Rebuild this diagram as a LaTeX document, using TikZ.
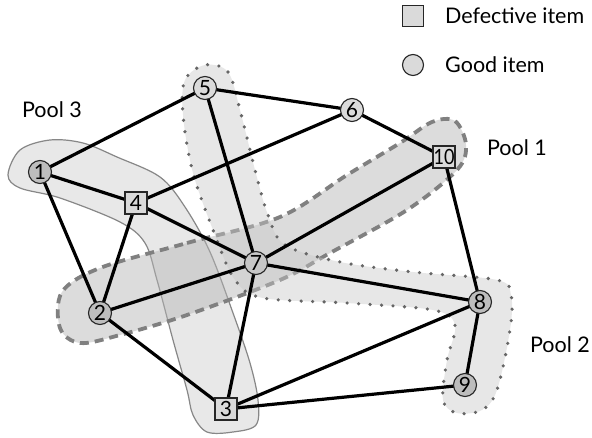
\documentclass[tikz,border=0pt]{standalone}
\usepackage{fontspec}
\setmainfont{Lato}
\begin{document}
\begin{tikzpicture}[x=1pt,y=-1pt,
  good/.style={circle,draw=black!85,line width=1.1pt,minimum size=23pt,inner sep=0pt,font=\fontsize{21}{21}\selectfont},
  bad/.style={rectangle,draw=black!85,line width=1.1pt,minimum size=22pt,inner sep=0pt,fill=light,font=\fontsize{21}{21}\selectfont},
  edge/.style={line width=3.2pt,black},
  lbl/.style={font=\fontsize{21.5}{24}\selectfont,inner sep=0pt},
  legtext/.style={font=\fontsize{21.5}{24}\selectfont,inner sep=0pt,anchor=west}]
\definecolor{light}{gray}{0.855}
\definecolor{mid}{gray}{0.78}
\definecolor{dark}{gray}{0.74}
\definecolor{pthree}{gray}{0.91}
\definecolor{pone}{RGB}{182,182,182}
\definecolor{ptwo}{RGB}{201,201,201}
\useasboundingbox (0,0) rectangle (592,438);
\fill[white] (0,0) rectangle (592,438);

% Pool 3
\draw[fill=pthree,draw=black!47,line width=1.2pt]
  plot[smooth cycle,tension=0.55] coordinates {(8,175) (20,150) (50,140) (83,143) (117,157) (160,177) (185,207) (210,252) (233,313) (250,363) (258,400) (256,425) (233,432) (207,432) (193,415) (187,390) (173,340) (157,280) (145,243) (120,222) (60,198) (20,188)};
% Pool 1
\fill[pone,fill opacity=0.48]
  plot[smooth cycle,tension=0.55] coordinates {(100,268) (187,243) (280,217) (347,175) (400,143) (432,122) (455,121) (466,145) (457,170) (407,210) (330,253) (280,280) (187,315) (120,335) (80,343) (60,328) (62,292)};
\draw[black!50,line width=3.8pt,dash pattern=on 9pt off 6pt]
  plot[smooth cycle,tension=0.55] coordinates {(100,268) (187,243) (280,217) (347,175) (400,143) (432,122) (455,121) (466,145) (457,170) (407,210) (330,253) (280,280) (187,315) (120,335) (80,343) (60,328) (62,292)};
% Pool 2
\fill[ptwo,fill opacity=0.43]
  plot[smooth cycle,tension=0.55] coordinates {(205,65) (228,72) (240,110) (255,170) (268,215) (285,245) (340,262) (413,272) (497,280) (511,295) (510,330) (497,390) (482,410) (457,413) (443,400) (447,360) (455,325) (433,310) (347,303) (263,298) (235,280) (215,235) (193,173) (183,115) (185,80)};
\draw[black!60,line width=3.6pt,line cap=round,dash pattern=on 0pt off 11.5pt]
  plot[smooth cycle,tension=0.55] coordinates {(205,65) (228,72) (240,110) (255,170) (268,215) (285,245) (340,262) (413,272) (497,280) (511,295) (510,330) (497,390) (482,410) (457,413) (443,400) (447,360) (455,325) (433,310) (347,303) (263,298) (235,280) (215,235) (193,173) (183,115) (185,80)};

% node positions (named coordinates)
\coordinate (n1) at (40,172);
\coordinate (n2) at (100,313);
\coordinate (n3) at (226,409);
\coordinate (n4) at (136,203);
\coordinate (n5) at (205,88);
\coordinate (n6) at (352,110);
\coordinate (n7) at (256,263);
\coordinate (n8) at (480,302);
\coordinate (n9) at (465,385);
\coordinate (n10) at (444,157);

\foreach \a/\b in {n1/n5,n1/n4,n1/n2,n4/n2,n4/n6,n4/n7,n5/n6,n5/n7,n6/n10,n10/n7,n10/n8,n7/n2,n7/n3,n7/n8,n2/n3,n3/n8,n3/n9,n8/n9}
  \draw[edge] (\a) -- (\b);

% nodes on top
\node[good,fill=dark] (v1) at (n1) {1};
\node[good,fill=dark] (v2) at (n2) {2};
\node[bad] (v3) at (n3) {3};
\node[bad] (v4) at (n4) {4};
\node[good,fill=light] (v5) at (n5) {5};
\node[good,fill=light] (v6) at (n6) {6};
\node[good,fill=mid] (v7) at (n7) {7};
\node[good,fill=dark] (v8) at (n8) {8};
\node[good,fill=dark] (v9) at (n9) {9};
\node[bad] (v10) at (n10) {\scalebox{0.86}[1]{10}};

% labels
\node[lbl] (p3) at (52,110) {Pool 3};
\node[lbl] (p1) at (517,148) {Pool 1};
\node[lbl] (p2) at (560,345) {Pool 2};

% legend
\node[bad,minimum size=21pt] (lsq) at (413,16) {};
\node[good,fill=light,minimum size=21pt] (lci) at (413,65) {};
\node[legtext] (ld) at (445,16) {Defective item};
\node[legtext] (lg) at (445,65) {Good item};
\end{tikzpicture}
\end{document}
